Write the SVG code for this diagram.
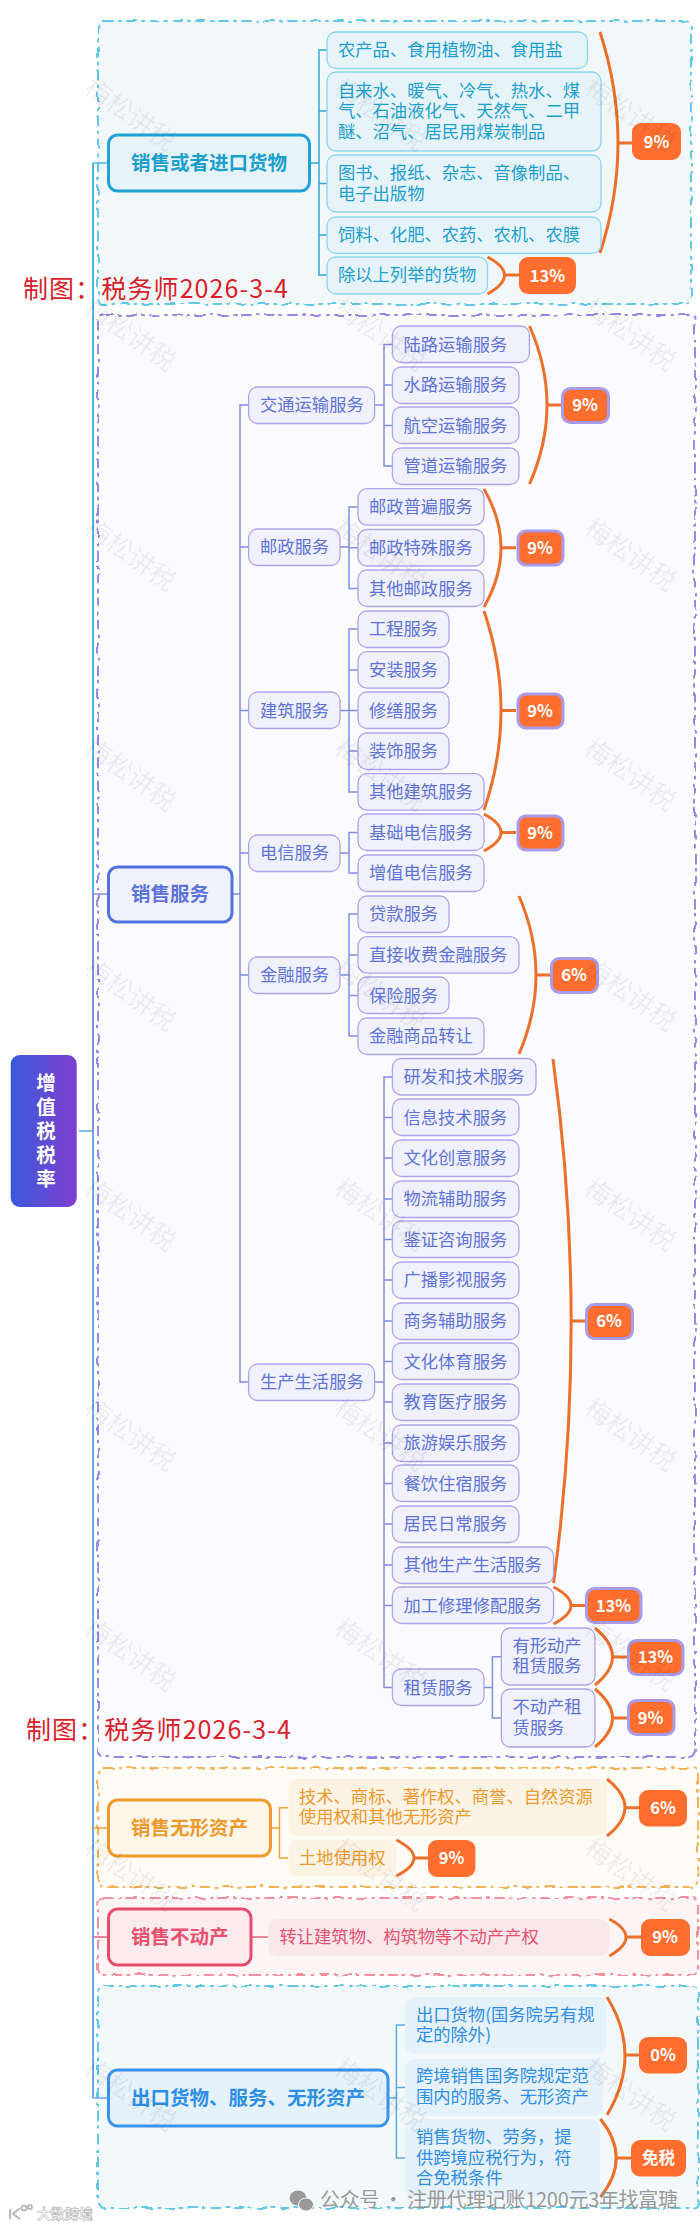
<svg xmlns="http://www.w3.org/2000/svg" width="700" height="2227" viewBox="0 0 700 2227">
<defs>
<linearGradient id="rootGrad" x1="0" y1="0" x2="1" y2="0"><stop offset="0" stop-color="#3a5adb"/><stop offset="1" stop-color="#7f3fd0"/></linearGradient>
<filter id="wob" x="-2%" y="-2%" width="104%" height="104%"><feTurbulence type="fractalNoise" baseFrequency=".09" numOctaves="1" seed="4"/><feDisplacementMap in="SourceGraphic" scale="5" xChannelSelector="R" yChannelSelector="G"/></filter>
<text id="wm" class="wm" text-anchor="middle" transform="rotate(35)">梅松讲税</text>
</defs>
<style>
text{font-family:"Noto Sans CJK SC","Noto Sans",sans-serif;font-size:17.3px}
.frame{stroke-width:2;stroke-dasharray:9 6 2 6;stroke-linecap:round;filter:url(#wob)}
.n{stroke-width:1.3}
.r{stroke-width:3}
.rt{font-size:19.5px;font-weight:700}
.c rect.n{fill:#e6f4fa;stroke:#8fd5ee}.c rect.r{fill:#e6f4fa;stroke:#1fa3d5}.c text{fill:#1d9fce}
.p rect.n{fill:#f0f1fd;stroke:#aea4ea}.p rect.r{fill:#f0f1fd;stroke:#5272e0}.p text{fill:#5f74d9}
.o rect.n{fill:#fdf3e4}.o rect.r{fill:#fff6ea;stroke:#f0982a}.o text{fill:#eb9a2e}
.d rect.n{fill:#f9e8eb}.d rect.r{fill:#fbebee;stroke:#e74c6c}.d text{fill:#e8506e}
.b rect.n{fill:#e5f1fb}.b rect.r{fill:#e5f1fb;stroke:#3a94ea}.b text{fill:#2f8fe6}
.bd rect{fill:#ff6e2e;stroke:none}.bd.s rect{stroke:#a99be8;stroke-width:3}
.bd text{fill:#fff;font-size:16.5px;font-weight:700;text-anchor:middle}
.l{fill:none;stroke-width:1.5}
.t{fill:none;stroke-width:2}
.br{fill:none;stroke:#ec6f2a;stroke-width:3}
.wm{font-size:26px;fill:#000;fill-opacity:.07}
.red{font-size:25px;fill:#d8222a}
.rootT{font-size:19.5px;font-weight:700;fill:#fff;text-anchor:middle}
</style>
<rect width="700" height="2227" fill="#fff"/>

<g id="frames">
<rect class="frame" x="98" y="21" width="593" height="283" rx="6" fill="#f2f8f9" stroke="#62c8e6"/>
<rect class="frame" x="98" y="315" width="597" height="1442" rx="6" fill="#fafaff" stroke="#9a86e6"/>
<rect class="frame" x="98" y="1768" width="600" height="119" rx="6" fill="#fffbf5" stroke="#f3b257"/>
<rect class="frame" x="98" y="1898" width="600" height="77" rx="6" fill="#fdf4f5" stroke="#f0909f"/>
<rect class="frame" x="98" y="1986" width="600" height="222" rx="6" fill="#f3f8fb" stroke="#62c8e6"/>
</g>

<g id="connectors">
<path class="l" stroke="#5aa9e6" d="M79 1131H93"/>
<path class="t" stroke="#4fb6da" d="M93 894V163"/>
<path class="l" stroke="#4fb6da" d="M93 163H108"/>
<path class="t" stroke="#7f8fe0" d="M93 894V1131"/>
<path class="l" stroke="#7f8fe0" d="M93 894H108"/>
<path class="t" stroke="#6aa8e8" d="M93 1131V2098"/>
<path class="l" stroke="#6aa8e8" d="M93 2098H108"/>
<path class="l" stroke="#f0a040" d="M93 1828H108"/>
<path class="l" stroke="#e8607a" d="M93 1937H108"/>
<path class="l" stroke="#2fa8d8" d="M309 163H319M327 50H319V275H327M319 111H327M319 183.500H327M319 235H327"/>
<path class="l" stroke="#7f8fe0" d="M232 894H240M248 405H240V1382H248M240 547H248M240 710.500H248M240 853H248M240 975H248"/>
<path class="l" stroke="#7f8fe0" d="M374 405H384M392 344.500H384V466H392M384 385H392M384 425.500H392"/>
<path class="l" stroke="#7f8fe0" d="M340 547H349M358 507H349V588.500H358M349 547.700H358"/>
<path class="l" stroke="#7f8fe0" d="M340 710.500H349M358 629H349V792H358M349 670H358M349 710.500H358M349 751H358"/>
<path class="l" stroke="#7f8fe0" d="M340 853H349M358 832.500H349V873H358"/>
<path class="l" stroke="#7f8fe0" d="M340 975H349M358 914H349V1036H358M349 955H358M349 995.500H358"/>
<path class="l" stroke="#7f8fe0" d="M374 1382H384M392 1077H384V1687.500H392M384 1117.500H392M384 1158H392M384 1199H392M384 1239.500H392M384 1280H392M384 1321H392M384 1361.500H392M384 1402H392M384 1443H392M384 1483.500H392M384 1524H392M384 1565H392M384 1605.500H392"/>
<path class="l" stroke="#7f8fe0" d="M484 1687.500H492.400M501 1656.700H492.400V1718H501"/>
<path class="l" stroke="#f0a040" d="M270 1828H279.500M288 1807.700H279.500V1858H288"/>
<path class="l" stroke="#e8607a" d="M251 1937H268"/>
<path class="l" stroke="#5aa9e6" d="M388 2098H396.400M405 2025H396.400V2158H405M396.400 2087.500H405"/>
<g id="braces">
<path class="br" d="M600 32Q636 143 600 253M618 143H632"/>
<path class="br" d="M487.500 257Q521.500 275 487.500 294M504.500 275H519"/>
<path class="br" d="M529.500 326Q564.500 405 529.500 484M547 405H561"/>
<path class="br" d="M484 489Q518 547.700 484 607M501 547.700H516"/>
<path class="br" d="M484 611Q518 710.500 484 810M501 710.500H516"/>
<path class="br" d="M484 814Q518 832.500 484 851M501 832.500H516"/>
<path class="br" d="M519 896Q553 975 519 1054M536 975H550"/>
<path class="br" d="M553 1059Q589 1321 553.600 1583M571 1321H585"/>
<path class="br" d="M553.600 1587Q588.400 1605.500 553.600 1624M571 1605.500H585"/>
<path class="br" d="M595 1628Q630 1657 595 1685M612.500 1657H627"/>
<path class="br" d="M595 1689Q630 1718 595 1747M612.500 1718H627"/>
<path class="br" d="M607 1779Q643 1807.700 607 1836M625 1807.700H639"/>
<path class="br" d="M396.400 1840Q431.600 1858 396.400 1876M414 1858H428"/>
<path class="br" d="M609.400 1919Q642.600 1937 609.400 1956M626 1937H641"/>
<path class="br" d="M607 1997Q643 2055 607 2115M625 2055H639"/>
<path class="br" d="M600.400 2119Q632 2158 600.400 2197M616 2158H631"/>
</g>
</g>

<g id="root"><rect x="10.700" y="1055" width="66" height="152" rx="9" fill="url(#rootGrad)"/>
<text class="rootT" x="46" y="1090">增</text>
<text class="rootT" x="46" y="1114">值</text>
<text class="rootT" x="46" y="1138">税</text>
<text class="rootT" x="46" y="1162">税</text>
<text class="rootT" x="46" y="1186">率</text>
</g>

<g class="c">
<g id="goods"><rect class="r" x="108.500" y="135" width="201" height="56" rx="9"/><text class="rt" x="131" y="170">销售或者进口货物</text></g>
<g id="c1"><rect class="n" x="327" y="32" width="260.500" height="36.500" rx="9"/><text x="338" y="56">农产品、食用植物油、食用盐</text></g>
<g id="c2"><rect class="n" x="327" y="72" width="274" height="79" rx="9"/><text x="338" y="96.700">自来水、暖气、冷气、热水、煤</text><text x="338" y="117">气、石油液化气、天然气、二甲</text><text x="338" y="138">醚、沼气、居民用煤炭制品</text></g>
<g id="c3"><rect class="n" x="327" y="155" width="274" height="57" rx="9"/><text x="338" y="179.300">图书、报纸、杂志、音像制品、</text><text x="338" y="199.700">电子出版物</text></g>
<g id="c4"><rect class="n" x="327" y="217" width="274" height="36.500" rx="9"/><text x="338" y="241">饲料、化肥、农药、农机、农膜</text></g>
<g id="c5"><rect class="n" x="327" y="257" width="160.500" height="37" rx="9"/><text x="338" y="281">除以上列举的货物</text></g>
</g>

<g class="p">
<g id="services"><rect class="r" x="108.500" y="867" width="123.500" height="55" rx="9"/><text class="rt" x="131" y="901">销售服务</text></g>
<g id="p1"><rect class="n" x="248.600" y="387" width="126" height="36.500" rx="9"/><text x="260" y="411">交通运输服务</text></g>
<g id="p2"><rect class="n" x="248.600" y="529" width="91.400" height="36.500" rx="9"/><text x="260" y="553">邮政服务</text></g>
<g id="p3"><rect class="n" x="248.600" y="692" width="91.400" height="36.500" rx="9"/><text x="260" y="716.500">建筑服务</text></g>
<g id="p4"><rect class="n" x="248.600" y="835" width="91.400" height="36.500" rx="9"/><text x="260" y="859">电信服务</text></g>
<g id="p5"><rect class="n" x="248.600" y="957" width="91.400" height="36.500" rx="9"/><text x="260" y="981">金融服务</text></g>
<g id="p6"><rect class="n" x="248.600" y="1364" width="126" height="36.500" rx="9"/><text x="260" y="1388">生产生活服务</text></g>
<g id="t1"><rect class="n" x="392.400" y="326" width="137" height="36.500" rx="9"/><text x="403.500" y="350.500">陆路运输服务</text></g>
<g id="t2"><rect class="n" x="392.400" y="367" width="126.600" height="36.500" rx="9"/><text x="403.500" y="391">水路运输服务</text></g>
<g id="t3"><rect class="n" x="392.400" y="407" width="126.600" height="36.500" rx="9"/><text x="403.500" y="431.500">航空运输服务</text></g>
<g id="t4"><rect class="n" x="392.400" y="448" width="126.600" height="36.500" rx="9"/><text x="403.500" y="472">管道运输服务</text></g>
<g id="m1"><rect class="n" x="358" y="488.700" width="126" height="36.500" rx="9"/><text x="369" y="513">邮政普遍服务</text></g>
<g id="m2"><rect class="n" x="358" y="529.500" width="126" height="36.500" rx="9"/><text x="369" y="553.700">邮政特殊服务</text></g>
<g id="m3"><rect class="n" x="358" y="570" width="126" height="36.500" rx="9"/><text x="369" y="594.500">其他邮政服务</text></g>
<g id="j1"><rect class="n" x="358" y="611" width="91" height="36.500" rx="9"/><text x="369" y="635">工程服务</text></g>
<g id="j2"><rect class="n" x="358" y="651.700" width="91" height="36.500" rx="9"/><text x="369" y="676">安装服务</text></g>
<g id="j3"><rect class="n" x="358" y="692" width="91" height="36.500" rx="9"/><text x="369" y="716.500">修缮服务</text></g>
<g id="j4"><rect class="n" x="358" y="733" width="91" height="36.500" rx="9"/><text x="369" y="757">装饰服务</text></g>
<g id="j5"><rect class="n" x="358" y="773.700" width="126" height="36.500" rx="9"/><text x="369" y="798">其他建筑服务</text></g>
<g id="e1"><rect class="n" x="358" y="814" width="126" height="36.500" rx="9"/><text x="369" y="838.500">基础电信服务</text></g>
<g id="e2"><rect class="n" x="358" y="855" width="126" height="36.500" rx="9"/><text x="369" y="879">增值电信服务</text></g>
<g id="f1"><rect class="n" x="358" y="896" width="91" height="36.500" rx="9"/><text x="369" y="920">贷款服务</text></g>
<g id="f2"><rect class="n" x="358" y="936.700" width="161" height="36.500" rx="9"/><text x="369" y="961">直接收费金融服务</text></g>
<g id="f3"><rect class="n" x="358" y="977" width="91" height="36.500" rx="9"/><text x="369" y="1001.500">保险服务</text></g>
<g id="f4"><rect class="n" x="358" y="1018" width="126" height="36.500" rx="9"/><text x="369" y="1042">金融商品转让</text></g>
<g id="s1"><rect class="n" x="392.400" y="1058.500" width="143.600" height="36.500" rx="9"/><text x="403.500" y="1083">研发和技术服务</text></g>
<g id="s2"><rect class="n" x="392.400" y="1099" width="126.600" height="36.500" rx="9"/><text x="403.500" y="1123.500">信息技术服务</text></g>
<g id="s3"><rect class="n" x="392.400" y="1140" width="126.600" height="36.500" rx="9"/><text x="403.500" y="1164">文化创意服务</text></g>
<g id="s4"><rect class="n" x="392.400" y="1181" width="126.600" height="36.500" rx="9"/><text x="403.500" y="1205">物流辅助服务</text></g>
<g id="s5"><rect class="n" x="392.400" y="1221" width="126.600" height="36.500" rx="9"/><text x="403.500" y="1245.500">鉴证咨询服务</text></g>
<g id="s6"><rect class="n" x="392.400" y="1262" width="126.600" height="36.500" rx="9"/><text x="403.500" y="1286">广播影视服务</text></g>
<g id="s7"><rect class="n" x="392.400" y="1303" width="126.600" height="36.500" rx="9"/><text x="403.500" y="1327">商务辅助服务</text></g>
<g id="s8"><rect class="n" x="392.400" y="1343" width="126.600" height="36.500" rx="9"/><text x="403.500" y="1367.500">文化体育服务</text></g>
<g id="s9"><rect class="n" x="392.400" y="1384" width="126.600" height="36.500" rx="9"/><text x="403.500" y="1408">教育医疗服务</text></g>
<g id="s10"><rect class="n" x="392.400" y="1425" width="126.600" height="36.500" rx="9"/><text x="403.500" y="1449">旅游娱乐服务</text></g>
<g id="s11"><rect class="n" x="392.400" y="1465" width="126.600" height="36.500" rx="9"/><text x="403.500" y="1489.500">餐饮住宿服务</text></g>
<g id="s12"><rect class="n" x="392.400" y="1506" width="126.600" height="36.500" rx="9"/><text x="403.500" y="1530">居民日常服务</text></g>
<g id="s13"><rect class="n" x="392.400" y="1547" width="161.200" height="36.500" rx="9"/><text x="403.500" y="1571">其他生产生活服务</text></g>
<g id="s14"><rect class="n" x="392.400" y="1587" width="161.200" height="36.500" rx="9"/><text x="403.500" y="1611.500">加工修理修配服务</text></g>
<g id="s15"><rect class="n" x="392.400" y="1669" width="91.600" height="36.500" rx="9"/><text x="403.500" y="1693.500">租赁服务</text></g>
<g id="r1"><rect class="n" x="501.300" y="1628" width="93.700" height="57" rx="9"/><text x="512.500" y="1651.700">有形动产</text><text x="512.500" y="1672">租赁服务</text></g>
<g id="r2"><rect class="n" x="501.300" y="1689" width="93.700" height="58" rx="9"/><text x="512.500" y="1713.300">不动产租</text><text x="512.500" y="1733.700">赁服务</text></g>
</g>

<g class="o">
<g id="intangible"><rect class="r" x="108.500" y="1800" width="162" height="56" rx="9"/><text class="rt" x="131" y="1835">销售无形资产</text></g>
<g id="o1"><rect class="n" x="288.400" y="1779" width="318.600" height="57" rx="9"/><text x="299" y="1802.700">技术、商标、著作权、商誉、自然资源</text><text x="299" y="1823.300">使用权和其他无形资产</text></g>
<g id="o2"><rect class="n" x="288.400" y="1840" width="108" height="36.500" rx="9"/><text x="299" y="1864">土地使用权</text></g>
</g>

<g class="d">
<g id="estate"><rect class="r" x="108.500" y="1909" width="142.500" height="56" rx="9"/><text class="rt" x="131" y="1944">销售不动产</text></g>
<g id="d1"><rect class="n" x="268" y="1919" width="341.400" height="37" rx="9"/><text x="279.500" y="1943">转让建筑物、构筑物等不动产产权</text></g>
</g>

<g class="b">
<g id="export"><rect class="r" x="108.500" y="2070" width="279.500" height="56" rx="9"/><text class="rt" x="131" y="2105">出口货物、服务、无形资产</text></g>
<g id="b1"><rect class="n" x="405" y="1997" width="201.700" height="56.500" rx="9"/><text x="416" y="2020.500">出口货物(国务院另有规</text><text x="416" y="2041">定的除外)</text></g>
<g id="b2"><rect class="n" x="405" y="2059" width="197.700" height="57" rx="9"/><text x="416" y="2082">跨境销售国务院规定范</text><text x="416" y="2102.700">围内的服务、无形资产</text></g>
<g id="b3"><rect class="n" x="405" y="2119" width="195" height="78" rx="9"/><text x="416" y="2142.700">销售货物、劳务，提</text><text x="416" y="2163.700">供跨境应税行为，符</text><text x="416" y="2184">合免税条件</text></g>
</g>

<g id="badges">
<g class="bd"><rect x="632" y="123" width="49" height="37" rx="9"/><text x="656.500" y="147.500">9%</text></g>
<g class="bd"><rect x="519" y="257" width="57" height="37" rx="9"/><text x="547.500" y="281.500">13%</text></g>
<g class="bd s"><rect x="562.500" y="388.500" width="46" height="34" rx="8"/><text x="585" y="411">9%</text></g>
<g class="bd s"><rect x="518" y="531" width="45" height="34" rx="8"/><text x="540" y="553.500">9%</text></g>
<g class="bd s"><rect x="518" y="694" width="45" height="34" rx="8"/><text x="540" y="716.500">9%</text></g>
<g class="bd s"><rect x="518" y="816" width="45" height="34" rx="8"/><text x="540" y="838.500">9%</text></g>
<g class="bd s"><rect x="551.500" y="958.500" width="46" height="34" rx="8"/><text x="574" y="981">6%</text></g>
<g class="bd s"><rect x="586.500" y="1304.500" width="46" height="34" rx="8"/><text x="609" y="1326.500">6%</text></g>
<g class="bd s"><rect x="586.500" y="1588.500" width="54.500" height="34" rx="8"/><text x="613.500" y="1611.500">13%</text></g>
<g class="bd s"><rect x="628.500" y="1640.500" width="54.500" height="34" rx="8"/><text x="655.500" y="1662.500">13%</text></g>
<g class="bd s"><rect x="628.500" y="1700.500" width="45.500" height="34" rx="8"/><text x="650.500" y="1723.500">9%</text></g>
<g class="bd"><rect x="639" y="1790" width="48" height="36.500" rx="9"/><text x="663" y="1813.500">6%</text></g>
<g class="bd"><rect x="428" y="1840" width="47.400" height="37" rx="9"/><text x="451.500" y="1863.500">9%</text></g>
<g class="bd"><rect x="641" y="1919" width="49" height="37" rx="9"/><text x="665" y="1942.500">9%</text></g>
<g class="bd"><rect x="639" y="2037" width="48" height="36.500" rx="9"/><text x="663" y="2060.500">0%</text></g>
<g class="bd"><rect x="631" y="2140" width="55" height="36.500" rx="9"/><text x="658.500" y="2164">免税</text></g>
</g>

<g id="watermarks">
<use href="#wm" transform="translate(125 122)"/><use href="#wm" transform="translate(375 122)"/><use href="#wm" transform="translate(625 122)"/>
<use href="#wm" transform="translate(125 342)"/><use href="#wm" transform="translate(375 342)"/><use href="#wm" transform="translate(625 342)"/>
<use href="#wm" transform="translate(125 562)"/><use href="#wm" transform="translate(375 562)"/><use href="#wm" transform="translate(625 562)"/>
<use href="#wm" transform="translate(125 782)"/><use href="#wm" transform="translate(375 782)"/><use href="#wm" transform="translate(625 782)"/>
<use href="#wm" transform="translate(125 1002)"/><use href="#wm" transform="translate(375 1002)"/><use href="#wm" transform="translate(625 1002)"/>
<use href="#wm" transform="translate(125 1222)"/><use href="#wm" transform="translate(375 1222)"/><use href="#wm" transform="translate(625 1222)"/>
<use href="#wm" transform="translate(125 1442)"/><use href="#wm" transform="translate(375 1442)"/><use href="#wm" transform="translate(625 1442)"/>
<use href="#wm" transform="translate(125 1662)"/><use href="#wm" transform="translate(375 1662)"/><use href="#wm" transform="translate(625 1662)"/>
<use href="#wm" transform="translate(125 1882)"/><use href="#wm" transform="translate(375 1882)"/><use href="#wm" transform="translate(625 1882)"/>
<use href="#wm" transform="translate(125 2102)"/><use href="#wm" transform="translate(375 2102)"/><use href="#wm" transform="translate(625 2102)"/>
</g>

<g id="labels">
<text class="red" x="23" y="298" textLength="265">制图：税务师2026-3-4</text>
<text class="red" x="26" y="1739" textLength="265">制图：税务师2026-3-4</text>
<g fill="#999"><ellipse cx="298" cy="2198" rx="8.500" ry="7.500"/><ellipse cx="306" cy="2204.500" rx="7.500" ry="6.500" stroke="#f3f8fb"/></g>
<text x="320" y="2207" textLength="358" style="font-size:20px;fill:#888;fill-opacity:.85">公众号 · 注册代理记账1200元3年找富瑭</text>
<g fill="none" stroke="#bbb" stroke-width="2"><path d="M10 2209V2219M20 2208L13 2214L20 2219"/><circle cx="24" cy="2208" r="2.500"/><circle cx="30" cy="2207" r="2"/></g>
<text x="37" y="2219" style="font-size:14px;font-weight:700;fill:#fff;stroke:#bbb;stroke-width:.7">大数跨境</text>
</g>
</svg>
